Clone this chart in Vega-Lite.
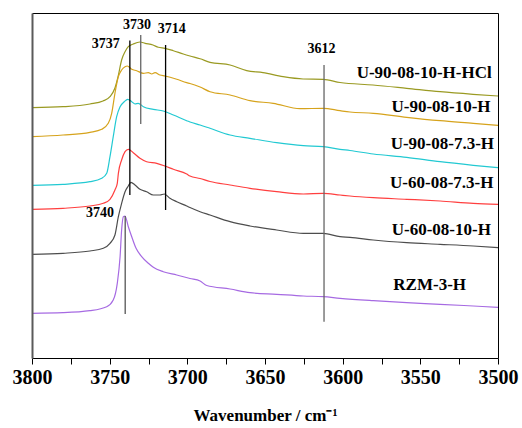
{
  "$schema": "https://vega.github.io/schema/vega-lite/v6.json",
  "width": 466,
  "height": 345,
  "autosize": "none",
  "padding": {"left": 32, "top": 13, "right": 24, "bottom": 70},
  "config": {
    "view": {"stroke": null},
    "font": "Liberation Serif"
  },
  "resolve": {"axis": {"x": "independent", "y": "independent"}},
  "datasets": {
    "spectra": [
      {"sample": "U-90-08-10-H-HCl", "wn": 3800, "abs": 250.3},
      {"sample": "U-90-08-10-H-HCl", "wn": 3780, "abs": 251.3},
      {"sample": "U-90-08-10-H-HCl", "wn": 3762.7, "abs": 254},
      {"sample": "U-90-08-10-H-HCl", "wn": 3754.3, "abs": 257},
      {"sample": "U-90-08-10-H-HCl", "wn": 3749.8, "abs": 261.3},
      {"sample": "U-90-08-10-H-HCl", "wn": 3746.6, "abs": 270},
      {"sample": "U-90-08-10-H-HCl", "wn": 3744.6, "abs": 281.3},
      {"sample": "U-90-08-10-H-HCl", "wn": 3742.3, "abs": 298},
      {"sample": "U-90-08-10-H-HCl", "wn": 3740.1, "abs": 306.3},
      {"sample": "U-90-08-10-H-HCl", "wn": 3738.0, "abs": 311.3},
      {"sample": "U-90-08-10-H-HCl", "wn": 3734.8, "abs": 314},
      {"sample": "U-90-08-10-H-HCl", "wn": 3730.5, "abs": 316},
      {"sample": "U-90-08-10-H-HCl", "wn": 3727.2, "abs": 314.7},
      {"sample": "U-90-08-10-H-HCl", "wn": 3722.1, "abs": 313},
      {"sample": "U-90-08-10-H-HCl", "wn": 3718.7, "abs": 310.7},
      {"sample": "U-90-08-10-H-HCl", "wn": 3714.4, "abs": 309.7},
      {"sample": "U-90-08-10-H-HCl", "wn": 3709.0, "abs": 307.3},
      {"sample": "U-90-08-10-H-HCl", "wn": 3702.6, "abs": 304},
      {"sample": "U-90-08-10-H-HCl", "wn": 3698.3, "abs": 302},
      {"sample": "U-90-08-10-H-HCl", "wn": 3691.8, "abs": 299.2},
      {"sample": "U-90-08-10-H-HCl", "wn": 3685.4, "abs": 295.7},
      {"sample": "U-90-08-10-H-HCl", "wn": 3672.5, "abs": 293},
      {"sample": "U-90-08-10-H-HCl", "wn": 3661.8, "abs": 287.3},
      {"sample": "U-90-08-10-H-HCl", "wn": 3651.3, "abs": 285.3},
      {"sample": "U-90-08-10-H-HCl", "wn": 3638.4, "abs": 281.3},
      {"sample": "U-90-08-10-H-HCl", "wn": 3625.5, "abs": 279},
      {"sample": "U-90-08-10-H-HCl", "wn": 3612.5, "abs": 278.7},
      {"sample": "U-90-08-10-H-HCl", "wn": 3601.7, "abs": 275.5},
      {"sample": "U-90-08-10-H-HCl", "wn": 3580.5, "abs": 273},
      {"sample": "U-90-08-10-H-HCl", "wn": 3558.8, "abs": 269.7},
      {"sample": "U-90-08-10-H-HCl", "wn": 3537.3, "abs": 266.3},
      {"sample": "U-90-08-10-H-HCl", "wn": 3516.1, "abs": 263.7},
      {"sample": "U-90-08-10-H-HCl", "wn": 3500, "abs": 262},

      {"sample": "U-90-08-10-H", "wn": 3800, "abs": 221.3},
      {"sample": "U-90-08-10-H", "wn": 3780, "abs": 223},
      {"sample": "U-90-08-10-H", "wn": 3762.7, "abs": 225.7},
      {"sample": "U-90-08-10-H", "wn": 3755.1, "abs": 228.7},
      {"sample": "U-90-08-10-H", "wn": 3750.9, "abs": 234.7},
      {"sample": "U-90-08-10-H", "wn": 3748.7, "abs": 244.7},
      {"sample": "U-90-08-10-H", "wn": 3746.6, "abs": 264.7},
      {"sample": "U-90-08-10-H", "wn": 3744.4, "abs": 281.3},
      {"sample": "U-90-08-10-H", "wn": 3742.3, "abs": 288},
      {"sample": "U-90-08-10-H", "wn": 3740.1, "abs": 291.3},
      {"sample": "U-90-08-10-H", "wn": 3738.6, "abs": 292},
      {"sample": "U-90-08-10-H", "wn": 3735.8, "abs": 288.7},
      {"sample": "U-90-08-10-H", "wn": 3732.6, "abs": 287.3},
      {"sample": "U-90-08-10-H", "wn": 3728.3, "abs": 284.7},
      {"sample": "U-90-08-10-H", "wn": 3725.1, "abs": 285.3},
      {"sample": "U-90-08-10-H", "wn": 3722.9, "abs": 284},
      {"sample": "U-90-08-10-H", "wn": 3720.8, "abs": 285.3},
      {"sample": "U-90-08-10-H", "wn": 3717.6, "abs": 283},
      {"sample": "U-90-08-10-H", "wn": 3714.4, "abs": 282},
      {"sample": "U-90-08-10-H", "wn": 3706.8, "abs": 278.7},
      {"sample": "U-90-08-10-H", "wn": 3700.4, "abs": 275.3},
      {"sample": "U-90-08-10-H", "wn": 3698.3, "abs": 274.5},
      {"sample": "U-90-08-10-H", "wn": 3691.8, "abs": 271},
      {"sample": "U-90-08-10-H", "wn": 3685.4, "abs": 266.3},
      {"sample": "U-90-08-10-H", "wn": 3672.5, "abs": 263},
      {"sample": "U-90-08-10-H", "wn": 3659.7, "abs": 257.3},
      {"sample": "U-90-08-10-H", "wn": 3644.7, "abs": 254.7},
      {"sample": "U-90-08-10-H", "wn": 3627.5, "abs": 249.3},
      {"sample": "U-90-08-10-H", "wn": 3612.5, "abs": 249.7},
      {"sample": "U-90-08-10-H", "wn": 3601.7, "abs": 247.3},
      {"sample": "U-90-08-10-H", "wn": 3595.3, "abs": 246},
      {"sample": "U-90-08-10-H", "wn": 3580.3, "abs": 244.7},
      {"sample": "U-90-08-10-H", "wn": 3558.8, "abs": 240.7},
      {"sample": "U-90-08-10-H", "wn": 3537.3, "abs": 237.3},
      {"sample": "U-90-08-10-H", "wn": 3515.9, "abs": 234.7},
      {"sample": "U-90-08-10-H", "wn": 3500, "abs": 232.7},

      {"sample": "U-90-08-7.3-H", "wn": 3800, "abs": 172.7},
      {"sample": "U-90-08-7.3-H", "wn": 3780, "abs": 173.7},
      {"sample": "U-90-08-7.3-H", "wn": 3762.7, "abs": 176.3},
      {"sample": "U-90-08-7.3-H", "wn": 3755.1, "abs": 179.7},
      {"sample": "U-90-08-7.3-H", "wn": 3751.9, "abs": 184.7},
      {"sample": "U-90-08-7.3-H", "wn": 3749.8, "abs": 201.3},
      {"sample": "U-90-08-7.3-H", "wn": 3747.7, "abs": 221.3},
      {"sample": "U-90-08-7.3-H", "wn": 3745.5, "abs": 241.3},
      {"sample": "U-90-08-7.3-H", "wn": 3743.3, "abs": 251.3},
      {"sample": "U-90-08-7.3-H", "wn": 3740.6, "abs": 256.3},
      {"sample": "U-90-08-7.3-H", "wn": 3738.4, "abs": 258.7},
      {"sample": "U-90-08-7.3-H", "wn": 3735.8, "abs": 256.3},
      {"sample": "U-90-08-7.3-H", "wn": 3733.7, "abs": 254},
      {"sample": "U-90-08-7.3-H", "wn": 3731.6, "abs": 254.7},
      {"sample": "U-90-08-7.3-H", "wn": 3728.3, "abs": 251.3},
      {"sample": "U-90-08-7.3-H", "wn": 3721.9, "abs": 248.7},
      {"sample": "U-90-08-7.3-H", "wn": 3715.5, "abs": 247},
      {"sample": "U-90-08-7.3-H", "wn": 3709.0, "abs": 243},
      {"sample": "U-90-08-7.3-H", "wn": 3700.4, "abs": 237.3},
      {"sample": "U-90-08-7.3-H", "wn": 3698.3, "abs": 236},
      {"sample": "U-90-08-7.3-H", "wn": 3691.8, "abs": 233},
      {"sample": "U-90-08-7.3-H", "wn": 3685.4, "abs": 229.7},
      {"sample": "U-90-08-7.3-H", "wn": 3672.5, "abs": 223},
      {"sample": "U-90-08-7.3-H", "wn": 3659.7, "abs": 219.7},
      {"sample": "U-90-08-7.3-H", "wn": 3642.5, "abs": 215.3},
      {"sample": "U-90-08-7.3-H", "wn": 3625.3, "abs": 212.3},
      {"sample": "U-90-08-7.3-H", "wn": 3612.5, "abs": 211.3},
      {"sample": "U-90-08-7.3-H", "wn": 3601.7, "abs": 208.7},
      {"sample": "U-90-08-7.3-H", "wn": 3595.3, "abs": 207.5},
      {"sample": "U-90-08-7.3-H", "wn": 3580.3, "abs": 204},
      {"sample": "U-90-08-7.3-H", "wn": 3558.8, "abs": 200.7},
      {"sample": "U-90-08-7.3-H", "wn": 3537.3, "abs": 196.3},
      {"sample": "U-90-08-7.3-H", "wn": 3515.9, "abs": 192.7},
      {"sample": "U-90-08-7.3-H", "wn": 3500, "abs": 190.3},

      {"sample": "U-60-08-7.3-H", "wn": 3800, "abs": 148.7},
      {"sample": "U-60-08-7.3-H", "wn": 3780, "abs": 149.7},
      {"sample": "U-60-08-7.3-H", "wn": 3762.7, "abs": 152},
      {"sample": "U-60-08-7.3-H", "wn": 3754.1, "abs": 154.7},
      {"sample": "U-60-08-7.3-H", "wn": 3749.8, "abs": 158.7},
      {"sample": "U-60-08-7.3-H", "wn": 3746.6, "abs": 168},
      {"sample": "U-60-08-7.3-H", "wn": 3745.1, "abs": 174.7},
      {"sample": "U-60-08-7.3-H", "wn": 3744.4, "abs": 184.7},
      {"sample": "U-60-08-7.3-H", "wn": 3742.3, "abs": 198},
      {"sample": "U-60-08-7.3-H", "wn": 3740.1, "abs": 206.3},
      {"sample": "U-60-08-7.3-H", "wn": 3738.0, "abs": 208.7},
      {"sample": "U-60-08-7.3-H", "wn": 3734.8, "abs": 205.3},
      {"sample": "U-60-08-7.3-H", "wn": 3730.5, "abs": 199.7},
      {"sample": "U-60-08-7.3-H", "wn": 3726.2, "abs": 196.3},
      {"sample": "U-60-08-7.3-H", "wn": 3719.7, "abs": 194.7},
      {"sample": "U-60-08-7.3-H", "wn": 3714.4, "abs": 192},
      {"sample": "U-60-08-7.3-H", "wn": 3709.0, "abs": 188.7},
      {"sample": "U-60-08-7.3-H", "wn": 3700.4, "abs": 184},
      {"sample": "U-60-08-7.3-H", "wn": 3698.3, "abs": 182},
      {"sample": "U-60-08-7.3-H", "wn": 3691.8, "abs": 179.5},
      {"sample": "U-60-08-7.3-H", "wn": 3685.4, "abs": 176.5},
      {"sample": "U-60-08-7.3-H", "wn": 3672.5, "abs": 173},
      {"sample": "U-60-08-7.3-H", "wn": 3659.7, "abs": 169.7},
      {"sample": "U-60-08-7.3-H", "wn": 3642.5, "abs": 166.3},
      {"sample": "U-60-08-7.3-H", "wn": 3625.3, "abs": 164},
      {"sample": "U-60-08-7.3-H", "wn": 3612.5, "abs": 164.7},
      {"sample": "U-60-08-7.3-H", "wn": 3601.7, "abs": 163},
      {"sample": "U-60-08-7.3-H", "wn": 3595.3, "abs": 162},
      {"sample": "U-60-08-7.3-H", "wn": 3580.3, "abs": 160.3},
      {"sample": "U-60-08-7.3-H", "wn": 3558.8, "abs": 158.7},
      {"sample": "U-60-08-7.3-H", "wn": 3537.3, "abs": 157},
      {"sample": "U-60-08-7.3-H", "wn": 3515.9, "abs": 154.7},
      {"sample": "U-60-08-7.3-H", "wn": 3500, "abs": 153.7},

      {"sample": "U-60-08-10-H", "wn": 3800, "abs": 103.7},
      {"sample": "U-60-08-10-H", "wn": 3780, "abs": 104.7},
      {"sample": "U-60-08-10-H", "wn": 3762.7, "abs": 107},
      {"sample": "U-60-08-10-H", "wn": 3754.1, "abs": 109.7},
      {"sample": "U-60-08-10-H", "wn": 3749.8, "abs": 114.7},
      {"sample": "U-60-08-10-H", "wn": 3746.6, "abs": 123},
      {"sample": "U-60-08-10-H", "wn": 3744.4, "abs": 141.3},
      {"sample": "U-60-08-10-H", "wn": 3742.3, "abs": 154.7},
      {"sample": "U-60-08-10-H", "wn": 3740.1, "abs": 166.3},
      {"sample": "U-60-08-10-H", "wn": 3738.0, "abs": 172},
      {"sample": "U-60-08-10-H", "wn": 3736.3, "abs": 175.7},
      {"sample": "U-60-08-10-H", "wn": 3733.7, "abs": 173},
      {"sample": "U-60-08-10-H", "wn": 3730.5, "abs": 168.7},
      {"sample": "U-60-08-10-H", "wn": 3726.2, "abs": 166.3},
      {"sample": "U-60-08-10-H", "wn": 3721.9, "abs": 163},
      {"sample": "U-60-08-10-H", "wn": 3717.6, "abs": 163},
      {"sample": "U-60-08-10-H", "wn": 3714.8, "abs": 164},
      {"sample": "U-60-08-10-H", "wn": 3711.2, "abs": 159.7},
      {"sample": "U-60-08-10-H", "wn": 3706.8, "abs": 156.3},
      {"sample": "U-60-08-10-H", "wn": 3700.4, "abs": 152},
      {"sample": "U-60-08-10-H", "wn": 3698.3, "abs": 150.5},
      {"sample": "U-60-08-10-H", "wn": 3691.8, "abs": 146.3},
      {"sample": "U-60-08-10-H", "wn": 3685.4, "abs": 143},
      {"sample": "U-60-08-10-H", "wn": 3672.5, "abs": 136.3},
      {"sample": "U-60-08-10-H", "wn": 3659.7, "abs": 132},
      {"sample": "U-60-08-10-H", "wn": 3642.5, "abs": 128},
      {"sample": "U-60-08-10-H", "wn": 3625.3, "abs": 124.7},
      {"sample": "U-60-08-10-H", "wn": 3612.5, "abs": 124.7},
      {"sample": "U-60-08-10-H", "wn": 3601.7, "abs": 121.3},
      {"sample": "U-60-08-10-H", "wn": 3595.3, "abs": 120.7},
      {"sample": "U-60-08-10-H", "wn": 3580.3, "abs": 118},
      {"sample": "U-60-08-10-H", "wn": 3558.8, "abs": 115.3},
      {"sample": "U-60-08-10-H", "wn": 3537.3, "abs": 113.7},
      {"sample": "U-60-08-10-H", "wn": 3515.9, "abs": 112},
      {"sample": "U-60-08-10-H", "wn": 3500, "abs": 110.3},

      {"sample": "RZM-3-H", "wn": 3800, "abs": 44.7},
      {"sample": "RZM-3-H", "wn": 3780, "abs": 45.3},
      {"sample": "RZM-3-H", "wn": 3762.7, "abs": 47.3},
      {"sample": "RZM-3-H", "wn": 3751.9, "abs": 51.3},
      {"sample": "RZM-3-H", "wn": 3747.7, "abs": 58},
      {"sample": "RZM-3-H", "wn": 3745.1, "abs": 74.7},
      {"sample": "RZM-3-H", "wn": 3743.3, "abs": 101.3},
      {"sample": "RZM-3-H", "wn": 3742.3, "abs": 128},
      {"sample": "RZM-3-H", "wn": 3741.2, "abs": 141.3},
      {"sample": "RZM-3-H", "wn": 3740.1, "abs": 142},
      {"sample": "RZM-3-H", "wn": 3738.0, "abs": 131.3},
      {"sample": "RZM-3-H", "wn": 3735.8, "abs": 121.3},
      {"sample": "RZM-3-H", "wn": 3733.0, "abs": 109.7},
      {"sample": "RZM-3-H", "wn": 3729.4, "abs": 101.3},
      {"sample": "RZM-3-H", "wn": 3725.1, "abs": 94.7},
      {"sample": "RZM-3-H", "wn": 3721.9, "abs": 90.7},
      {"sample": "RZM-3-H", "wn": 3715.5, "abs": 86.3},
      {"sample": "RZM-3-H", "wn": 3706.8, "abs": 83},
      {"sample": "RZM-3-H", "wn": 3698.3, "abs": 79.5},
      {"sample": "RZM-3-H", "wn": 3691.8, "abs": 77},
      {"sample": "RZM-3-H", "wn": 3687.5, "abs": 72.5},
      {"sample": "RZM-3-H", "wn": 3672.5, "abs": 69},
      {"sample": "RZM-3-H", "wn": 3659.7, "abs": 65.3},
      {"sample": "RZM-3-H", "wn": 3642.5, "abs": 63.7},
      {"sample": "RZM-3-H", "wn": 3625.3, "abs": 62},
      {"sample": "RZM-3-H", "wn": 3612.5, "abs": 61.3},
      {"sample": "RZM-3-H", "wn": 3601.7, "abs": 59.7},
      {"sample": "RZM-3-H", "wn": 3580.3, "abs": 57.3},
      {"sample": "RZM-3-H", "wn": 3558.8, "abs": 55.3},
      {"sample": "RZM-3-H", "wn": 3537.3, "abs": 53.7},
      {"sample": "RZM-3-H", "wn": 3515.9, "abs": 52},
      {"sample": "RZM-3-H", "wn": 3500, "abs": 50.7}
    ],
    "sampleLabels": [
      {"sample": "U-90-08-10-H-HCl", "wn": 3591.0, "abs": 285.3},
      {"sample": "U-90-08-10-H", "wn": 3568.6, "abs": 251.3},
      {"sample": "U-90-08-7.3-H", "wn": 3569.1, "abs": 213.7},
      {"sample": "U-60-08-7.3-H", "wn": 3569.5, "abs": 174.7},
      {"sample": "U-60-08-10-H", "wn": 3568.4, "abs": 128.3},
      {"sample": "RZM-3-H", "wn": 3567.4, "abs": 73}
    ],
    "peaks": [
      {"peak": "3737", "wn": 3737, "top": 317.5, "bottom": 163, "labelWn": 3752.5, "labelAbs": 314},
      {"peak": "3730", "wn": 3730, "top": 323, "bottom": 234, "labelWn": 3732.4, "labelAbs": 333.3},
      {"peak": "3714", "wn": 3714, "top": 313, "bottom": 148, "labelWn": 3710.1, "labelAbs": 329.3},
      {"peak": "3612", "wn": 3612, "top": 293, "bottom": 36.3, "labelWn": 3613.7, "labelAbs": 309.3},
      {"peak": "3740", "wn": 3740, "top": 142, "bottom": 44, "labelWn": 3756.2, "labelAbs": 145.2}
    ]
  },
  "layer": [
    {
      "data": {"name": "spectra"},
      "mark": {"type": "line", "strokeWidth": 1.2, "interpolate": "monotone"},
      "encoding": {
        "x": {
          "field": "wn",
          "type": "quantitative",
          "scale": {"domain": [3800, 3500], "nice": false, "zero": false},
          "axis": {
            "title": "Wavenumber / cm⁻¹",
            "titleFont": "Liberation Serif",
            "titleFontSize": 17,
            "titleFontWeight": "bold",
            "titleColor": "#000000",
            "titlePadding": 20,
            "values": [3800, 3775, 3750, 3725, 3700, 3675, 3650, 3625, 3600, 3575, 3550, 3525, 3500],
            "labelExpr": "datum.value % 50 === 0 ? datum.label : ''",
            "format": "d",
            "labelFont": "Liberation Serif",
            "labelFontSize": 20,
            "labelFontWeight": "bold",
            "labelColor": "#000000",
            "labelPadding": 3,
            "labelFlush": false,
            "labelOverlap": false,
            "tickSize": 6,
            "tickColor": "#000000",
            "tickWidth": 1,
            "domainColor": "#000000",
            "domainWidth": 1,
            "grid": false,
            "zindex": 1,
            "encode": {
              "ticks": {
                "update": {
                  "y2": {"signal": "datum.value % 50 === 0 ? -6 : -3"}
                }
              }
            }
          }
        },
        "y": {
          "field": "abs",
          "type": "quantitative",
          "scale": {"domain": [0, 345], "nice": false},
          "axis": {
            "title": null,
            "labels": false,
            "ticks": false,
            "grid": false,
            "zindex": 1,
            "domainColor": "#5a5a5a",
            "domainWidth": 2
          }
        },
        "color": {
          "field": "sample",
          "type": "nominal",
          "legend": null,
          "scale": {
            "domain": ["U-90-08-10-H-HCl", "U-90-08-10-H", "U-90-08-7.3-H", "U-60-08-7.3-H", "U-60-08-10-H", "RZM-3-H"],
            "range": ["#9a9a22", "#d6a31c", "#22c9d2", "#ff3f3f", "#4d4d4d", "#a66ae2"]
          }
        }
      }
    },
    {
      "data": {"name": "peaks"},
      "mark": {"type": "rule", "strokeWidth": 1.3},
      "encoding": {
        "x": {
          "field": "wn",
          "type": "quantitative",
          "axis": {"orient": "top", "title": null, "labels": false, "ticks": false, "grid": false, "domainColor": "#000000", "domainWidth": 1}
        },
        "y": {
          "field": "top",
          "type": "quantitative",
          "axis": {"orient": "right", "title": null, "labels": false, "ticks": false, "grid": false, "domainColor": "#000000", "domainWidth": 1}
        },
        "y2": {"field": "bottom"},
        "stroke": {
          "field": "peak",
          "type": "nominal",
          "legend": null,
          "scale": {
            "domain": ["3737", "3730", "3714", "3612", "3740"],
            "range": ["#000000", "#666666", "#000000", "#666666", "#555555"]
          }
        }
      }
    },
    {
      "data": {"name": "peaks"},
      "mark": {"type": "text", "font": "Liberation Serif", "fontWeight": "bold", "fontSize": 14, "align": "center", "baseline": "middle", "color": "#000000"},
      "encoding": {
        "x": {"field": "labelWn", "type": "quantitative", "axis": null},
        "y": {"field": "labelAbs", "type": "quantitative", "axis": null},
        "text": {"field": "peak"}
      }
    },
    {
      "data": {"name": "sampleLabels"},
      "mark": {"type": "text", "font": "Liberation Serif", "fontWeight": "bold", "fontSize": 17, "align": "left", "baseline": "middle", "color": "#000000"},
      "encoding": {
        "x": {"field": "wn", "type": "quantitative", "axis": null},
        "y": {"field": "abs", "type": "quantitative", "axis": null},
        "text": {"field": "sample"}
      }
    }
  ]
}
